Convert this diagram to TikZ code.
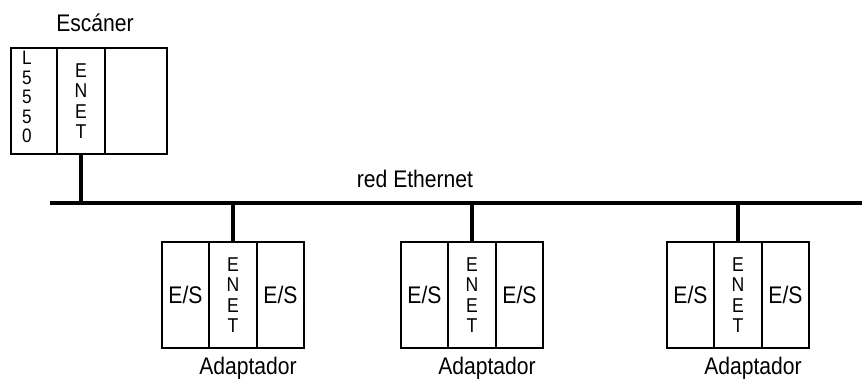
\documentclass[tikz,border=0pt]{standalone}
\usepackage{fontspec}
\setmainfont{Liberation Sans}[FakeStretch=0.88]
\begin{document}
\begin{tikzpicture}[x=1pt,y=-1pt,
  slot/.style={draw, line width=1.8pt, inner sep=0pt, minimum height=106pt},
  vlabel/.style={inner sep=0pt, align=center, font=\fontsize{20}{20.5}\selectfont},
  iolabel/.style={font=\fontsize{24}{26}\selectfont},
  caption/.style={inner sep=0pt, font=\fontsize{24}{26}\selectfont},
  wire/.style={line width=3.4pt}]
\useasboundingbox (0,0) rectangle (864,381);

% scanner rack
\node[slot, minimum width=46pt] (scanL) at (34,101) {};
\node[slot, minimum width=48pt, vlabel] (scanE) at (81,101) {E\\N\\E\\T};
\node[slot, minimum width=62pt] (scanX) at (136,101) {};
\node[vlabel, font=\fontsize{19.5}{19.5}\selectfont] (scanT) at (27,97) {L\\5\\5\\5\\0};
\node[caption] (scanC) at (95,23) {Escáner};

% Ethernet bus
\coordinate (busL) at (50,203);
\coordinate (busR) at (862,203);
\draw[wire] (busL) -- (busR);
\node[caption] (net) at (415,179) {red Ethernet};
\draw[wire] (scanE.south) -- (scanE.south |- busL);

% adapter racks
\foreach \n/\xa in {1/162, 2/401, 3/667} {
  \node[slot, minimum width=47pt, iolabel] (a\n io1) at (\xa+23.5,295) {E/S};
  \node[slot, minimum width=48pt, vlabel] (a\n e) at (\xa+71,295) {E\\N\\E\\T};
  \node[slot, minimum width=47pt, iolabel] (a\n io2) at (\xa+118.5,295) {E/S};
  \node[caption] (a\n c) at (\xa+86,368) {Adaptador};
  \draw[wire] (a\n e.north) -- (a\n e.north |- busL);
}
\end{tikzpicture}
\end{document}
